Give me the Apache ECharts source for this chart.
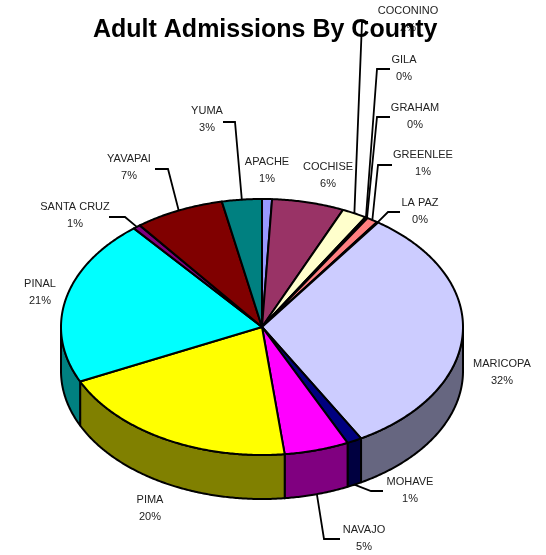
<!DOCTYPE html>
<html>
<head>
<meta charset="utf-8">
<script src="https://cdn.jsdelivr.net/npm/echarts@6/dist/echarts.min.js"></script>
<style>
  html, body { margin: 0; padding: 0; background: #fff; }
  #chart { width: 546px; height: 555px; }
</style>
</head>
<body>
<div id="chart"></div>
<script>
// Share of adult admissions per county (percent of total)
const counties = ['APACHE', 'COCHISE', 'COCONINO', 'GILA', 'GRAHAM', 'GREENLEE', 'LA PAZ',
  'MARICOPA', 'MOHAVE', 'NAVAJO', 'PIMA', 'PINAL', 'SANTA CRUZ', 'YAVAPAI', 'YUMA'];
const shares = [0.8, 5.8, 2.0, 0.1, 0.1, 0.9, 0.1, 32.0, 1.2, 5.2, 19.8, 21.0, 0.6, 7.2, 3.2];

// Classic spreadsheet chart palette, one colour per slice in order
const palette = ['#9999FF', '#993366', '#FFFFCC', '#CCFFFF', '#660066', '#FF8080', '#0066CC',
  '#CCCCFF', '#000080', '#FF00FF', '#FFFF00', '#00FFFF', '#800080', '#800000', '#008080'];

// Pie geometry (tilted disc): centre, radii of the top face and wall depth
const PIE = { cx: 262, cy: 327, rx: 201, ry: 128, depth: 44 };

// Label placement: centre of the two-line label, optional leader line points
const labelLayout = {
  'APACHE':     { x: 267, y: 170 },
  'COCHISE':    { x: 328, y: 175 },
  'COCONINO':   { x: 408, y: 19, leader: [[368, 22], [362, 22]] },
  'GILA':       { x: 404, y: 68, leader: [[390, 69], [377, 69]] },
  'GRAHAM':     { x: 415, y: 116, leader: [[390, 117], [377, 117]] },
  'GREENLEE':   { x: 423, y: 163, leader: [[392, 165], [378, 165]] },
  'LA PAZ':     { x: 420, y: 211, leader: [[400, 212], [388, 212]] },
  'MARICOPA':   { x: 502, y: 372 },
  'MOHAVE':     { x: 410, y: 490, leader: [[383, 491], [371, 491]] },
  'NAVAJO':     { x: 364, y: 538, leader: [[340, 539], [324, 539]] },
  'PIMA':       { x: 150, y: 508 },
  'PINAL':      { x: 40, y: 292 },
  'SANTA CRUZ': { x: 75, y: 215, leader: [[109, 217], [125, 217]] },
  'YAVAPAI':    { x: 129, y: 167, leader: [[155, 169], [168, 169]] },
  'YUMA':       { x: 207, y: 119, leader: [[223, 122], [235, 122]] }
};

const total = shares.reduce((a, b) => a + b, 0);
const cumulative = [0];
shares.forEach((v, i) => cumulative.push(cumulative[i] + v));

function darken(hex, f) {
  const n = parseInt(hex.slice(1), 16);
  const r = Math.round(((n >> 16) & 255) * f);
  const g = Math.round(((n >> 8) & 255) * f);
  const b = Math.round((n & 255) * f);
  return 'rgb(' + r + ',' + g + ',' + b + ')';
}

// angle measured clockwise from 12 o'clock
function rimPoint(a, dy) {
  return [PIE.cx + PIE.rx * Math.sin(a), PIE.cy - PIE.ry * Math.cos(a) + (dy || 0)];
}

function arcPoints(a0, a1, dy) {
  const pts = [];
  const steps = Math.max(2, Math.ceil((a1 - a0) / (Math.PI / 360)));
  for (let k = 0; k <= steps; k++) {
    pts.push(rimPoint(a0 + (a1 - a0) * k / steps, dy));
  }
  return pts;
}

const outline = { stroke: '#000', lineWidth: 2, lineJoin: 'round' };

function renderSlice(params, api) {
  const i = params.dataIndex;
  const value = api.value(0);
  const a0 = cumulative[i] / total * Math.PI * 2;
  const a1 = a0 + value / total * Math.PI * 2;
  const color = palette[i % palette.length];
  const children = [];

  // outer wall, visible on the front half of the disc
  const s = Math.max(a0, Math.PI / 2);
  const e = Math.min(a1, Math.PI * 3 / 2);
  if (e > s) {
    const top = arcPoints(s, e, 0);
    const bottom = arcPoints(s, e, PIE.depth).reverse();
    children.push({
      type: 'polygon',
      shape: { points: top.concat(bottom) },
      style: Object.assign({ fill: darken(color, 0.5) }, outline)
    });
  }

  // top face
  children.push({
    type: 'polygon',
    shape: { points: [[PIE.cx, PIE.cy]].concat(arcPoints(a0, a1, 0)) },
    style: Object.assign({ fill: color }, outline)
  });

  // label and leader line
  const name = counties[i];
  const lay = labelLayout[name];
  const pct = Math.round(value / total * 100) + '%';
  if (lay) {
    if (lay.leader) {
      const mid = (a0 + a1) / 2;
      const front = Math.cos(mid) < 0;
      const end = rimPoint(mid, front ? PIE.depth : 0);
      children.push({
        type: 'polyline',
        shape: { points: lay.leader.concat([end]) },
        style: { stroke: '#000', lineWidth: 1.8, fill: null }
      });
    }
    children.push({
      type: 'text',
      x: lay.x,
      y: lay.y,
      style: {
        text: name + '\n' + pct,
        fill: '#222',
        font: '11px "Liberation Sans", Arial, sans-serif',
        align: 'center',
        verticalAlign: 'middle',
        lineHeight: 17
      }
    });
  }
  return { type: 'group', children: children };
}

const chart = echarts.init(document.getElementById('chart'), null, { renderer: 'canvas' });
chart.setOption({
  animation: false,
  backgroundColor: '#fff',
  title: {
    text: 'Adult Admissions By County',
    left: 93,
    top: 18,
    padding: 0,
    textStyle: {
      fontFamily: '"Liberation Sans", Arial, sans-serif',
      fontSize: 25,
      fontWeight: 'bold',
      color: '#000'
    }
  },
  series: [{
    type: 'custom',
    coordinateSystem: 'none',
    renderItem: renderSlice,
    data: shares.map((v, i) => ({ name: counties[i], value: [v] }))
  }]
});
</script>
</body>
</html>
